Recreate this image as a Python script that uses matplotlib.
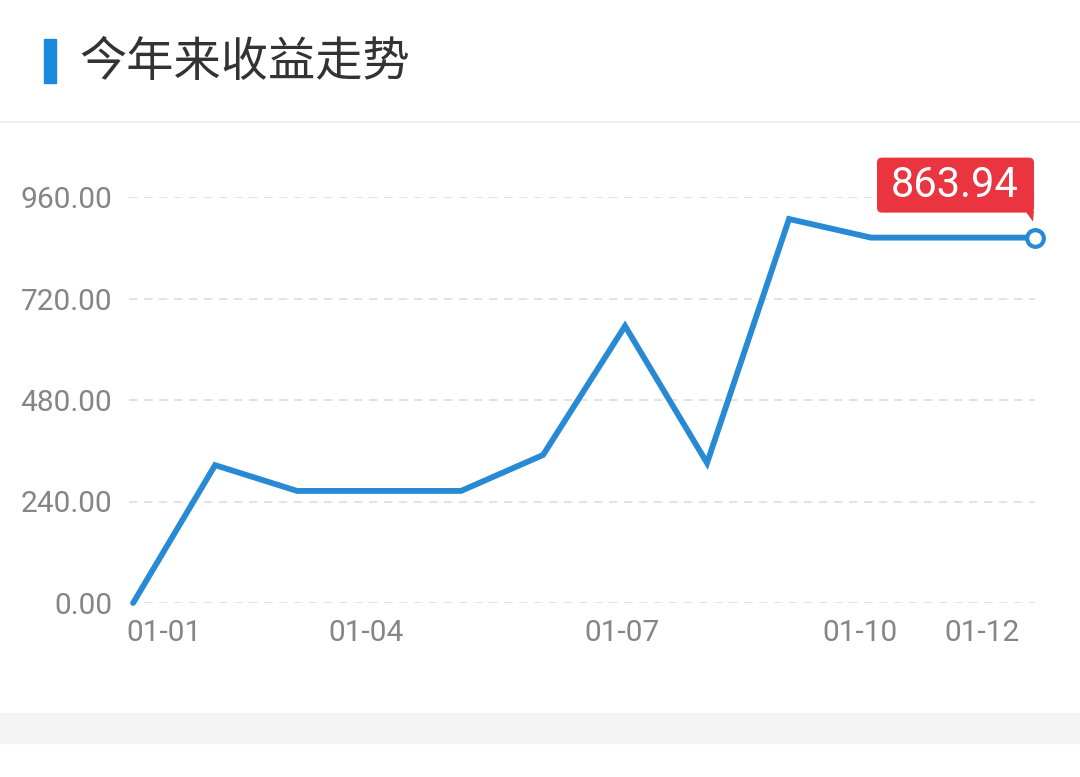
import matplotlib.pyplot as plt
import matplotlib.patches as mpatches
import matplotlib.transforms as mtransforms

# data
months = list(range(12))
values = [0.0, 326.0, 265.0, 265.0, 265.0, 350.0, 655.0, 331.0, 908.0, 863.94, 863.94, 863.94]
tick_idx = [0, 3, 6, 9, 11]
tick_labels = ['01-01', '01-04', '01-07', '01-10', '01-12']
yticks = [0, 240, 480, 720, 960]
title = '今年来收益走势'

W, H = 1080, 777
fig = plt.figure(figsize=(W / 100, H / 100), dpi=100)
fig.patch.set_facecolor('white')

def px(x, y, w, h):
    # pixel box (from top-left) -> figure fraction
    return [x / W, 1 - (y + h) / H, w / W, h / H]

# header
fig.patches.append(mpatches.Rectangle(px(44, 39, 12, 44)[:2], 12 / W, 44 / H,
                                      transform=fig.transFigure, color='#1a8ae0'))
fig.text(79 / W, 1 - 63 / H, title, fontsize=34, color='#333333', va='center', ha='left',
         family=['Noto Sans CJK SC', 'DejaVu Sans'])
fig.add_artist(plt.Line2D([0, 1], [1 - 122 / H] * 2, color='#ececec', lw=1.2,
                          transform=fig.transFigure))
# grey band at the bottom
fig.patches.append(mpatches.Rectangle((0, 1 - 743 / H), 1, 30 / H,
                                      transform=fig.transFigure, color='#f4f4f4'))

ax = fig.add_axes(px(129, 197, 906, 406))
ax.set_xlim(-0.05, 11)
ax.set_ylim(0, 960)
for s in ax.spines.values():
    s.set_visible(False)
ax.set_facecolor('none')

for yv in yticks:
    ax.axhline(yv, color='#dddddd', lw=1.2, ls=(0, (5, 4)), zorder=1)

ax.plot(months, values, color='#2889d4', lw=4.2, solid_joinstyle='miter',
        solid_capstyle='round', clip_on=False, zorder=3)
ax.plot(months[-1], values[-1], 'o', ms=12, mfc='white', mec='#2889d4', mew=3.0,
        clip_on=False, zorder=4)

ax.set_yticks(yticks)
ax.set_yticklabels([f'{v:.2f}' for v in yticks])
ax.tick_params(axis='y', length=0, pad=12, labelsize=21.5, labelcolor='#858585')
ax.set_xticks([])
ax.tick_params(axis='x', length=0)
for lab in ax.get_yticklabels():
    lab.set_family('Roboto')

# x labels: first sits to the right of its tick, last to the left
xlab_shift = [31, -13, -3, -11, -53]
for i, lab, sh in zip(tick_idx, tick_labels, xlab_shift):
    t = mtransforms.offset_copy(ax.transData, fig=fig, x=sh * 0.72, y=0, units='points')
    ax.text(i, -70, lab, transform=t, ha='center', va='center', fontsize=21.5,
            color='#858585', family='Roboto', clip_on=False)

# tooltip on the last point
fig.canvas.draw()
ox, oy = ax.transData.transform((months[-1], values[-1]))
tip = mtransforms.Affine2D().translate(ox, oy)
box = mpatches.FancyBboxPatch((-158, 25), 157, 55, boxstyle='round,pad=0,rounding_size=5',
                              fc='#ea3440', ec='none', transform=tip, clip_on=False, zorder=5)
fig.patches.append(box)
tail = mpatches.Polygon([(-10, 27), (-1, 27), (-2, 16)], closed=True, fc='#ea3440', ec='none',
                        transform=tip, clip_on=False, zorder=5)
fig.patches.append(tail)
fig.text(ox - 80, oy + 52.5, f'{values[-1]:.2f}', transform=None, fontsize=30, color='white',
         ha='center', va='center', family='Roboto', zorder=6)

fig.savefig('out.png', dpi=100, facecolor='white')
